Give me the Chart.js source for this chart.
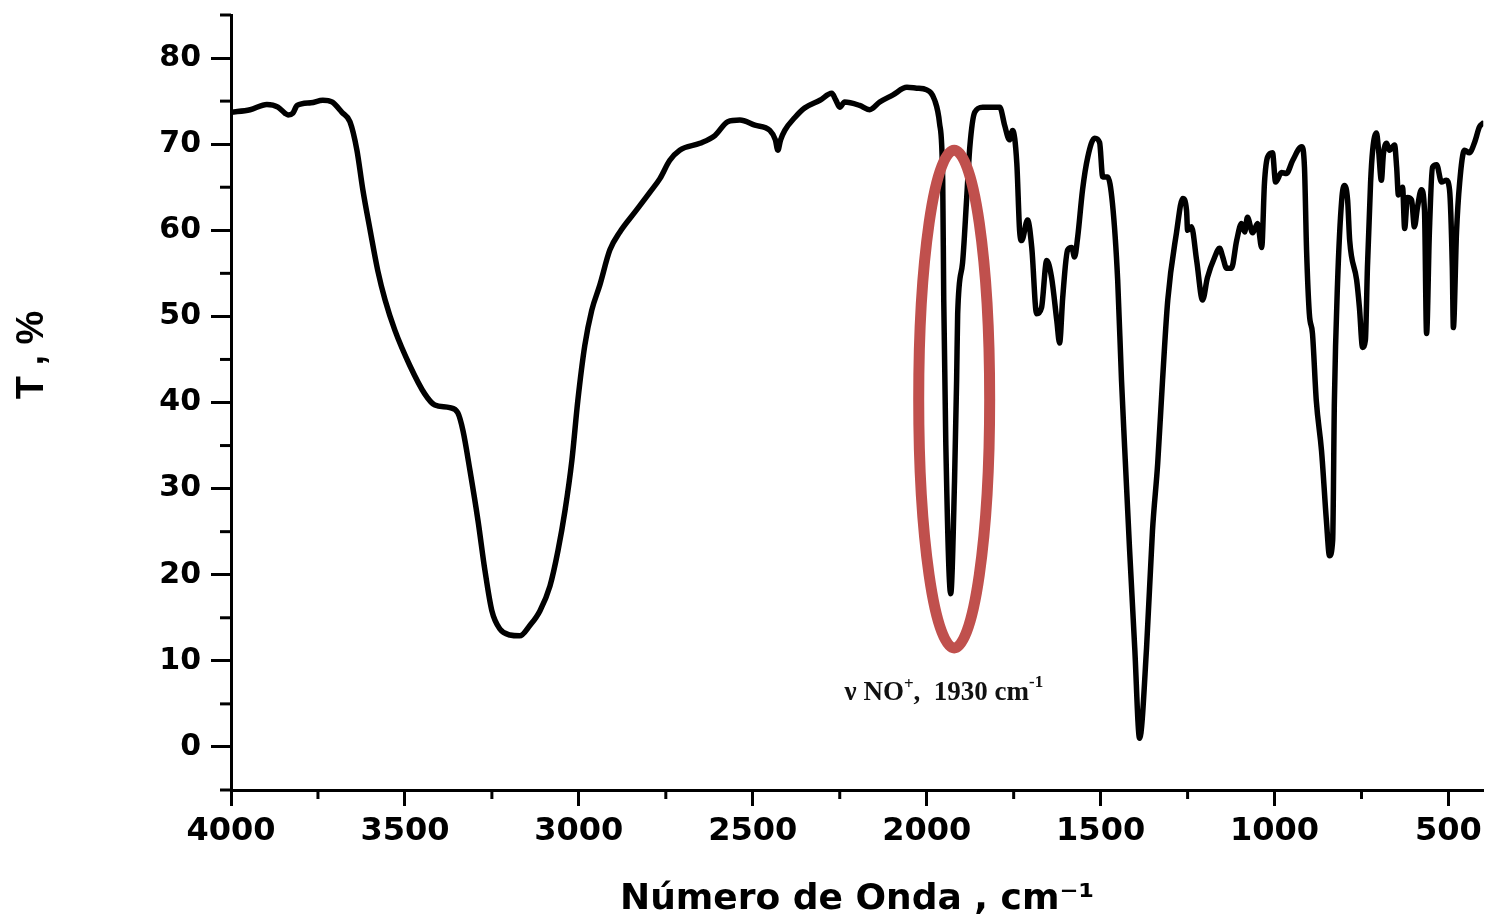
<!DOCTYPE html>
<html>
<head>
<meta charset="utf-8">
<script src="https://cdn.jsdelivr.net/npm/chart.js@4.4.0/dist/chart.umd.min.js"></script>
<style>
  html, body { margin: 0; padding: 0; background: #fff; }
  #wrap { width: 1488px; height: 923px; }
</style>
</head>
<body>
<div id="wrap"><canvas id="irChart"></canvas></div>
<script>
// IR spectrum, wavenumber (cm-1) vs transmittance (%)
const waveNumber = [
  4000, 3945, 3897, 3865, 3845, 3836, 3822, 3810, 3770, 3736, 3710, 3681, 3658, 3638, 3621,
  3600, 3578, 3557, 3529, 3486, 3443, 3414, 3371, 3348, 3333, 3313, 3290, 3270, 3250, 3227,
  3198, 3170, 3141, 3112, 3083, 3060, 3040, 3020, 3003, 2983, 2963, 2940, 2911, 2882, 2839,
  2796, 2767, 2739, 2710, 2652, 2609, 2572, 2537, 2494, 2451, 2435, 2428, 2420, 2408, 2379,
  2351, 2307, 2273, 2261, 2250, 2236, 2193, 2164, 2135, 2098, 2057, 2029, 2000, 1977, 1963,
  1954, 1951, 1945, 1931, 1920, 1914, 1911, 1897, 1885, 1876, 1862, 1839, 1790, 1776, 1762,
  1753, 1741, 1733, 1727, 1710, 1698, 1684, 1670, 1655, 1641, 1626, 1618, 1609, 1595, 1583,
  1575, 1566, 1552, 1537, 1517, 1503, 1494, 1480, 1466, 1451, 1440, 1431, 1417, 1402, 1388,
  1368, 1351, 1336, 1322, 1307, 1282, 1264, 1253, 1250, 1239, 1224, 1207, 1193, 1172, 1158,
  1149, 1138, 1124, 1109, 1095, 1086, 1078, 1063, 1049, 1037, 1029, 1020, 1006, 997, 980,
  966, 948, 922, 914, 908, 900, 891, 880, 865, 851, 842, 833, 828, 819, 807,
  799, 790, 784, 764, 756, 747, 739, 733, 724, 718, 707, 701, 693, 687, 678,
  670, 655, 649, 644, 632, 626, 618, 606, 598, 589, 578, 569, 563, 555, 546,
  534, 520, 506, 497, 489, 486, 477, 468, 454, 440, 425, 411, 402
];
const transmittance = [
  73.7, 74.0, 74.6, 74.3, 73.6, 73.4, 73.6, 74.5, 74.8, 75.1, 74.9, 73.7, 72.6, 69.3, 64.7,
  60.0, 55.3, 51.9, 48.4, 44.3, 41.0, 39.7, 39.4, 38.8, 36.7, 32.1, 26.3, 20.5, 15.8, 13.7,
  13.0, 12.9, 14.1, 15.8, 18.7, 22.8, 27.4, 33.3, 40.2, 46.6, 50.7, 53.6, 57.7, 59.8, 62.1,
  64.4, 66.0, 68.1, 69.3, 70.1, 71.0, 72.6, 72.8, 72.2, 71.6, 70.5, 69.3, 70.5, 71.6, 73.1,
  74.2, 75.1, 75.9, 75.1, 74.3, 74.9, 74.5, 74.0, 74.9, 75.7, 76.6, 76.5, 76.3, 75.1, 72.4,
  65.8, 51.9, 35.0, 17.8, 30.9, 42.6, 50.3, 56.2, 63.8, 69.7, 73.7, 74.3, 74.3, 72.2, 70.5,
  71.6, 67.8, 60.0, 58.8, 61.2, 58.0, 50.3, 51.0, 56.5, 54.5, 49.5, 46.9, 52.2, 57.7, 58.0,
  56.9, 59.2, 64.7, 68.5, 70.7, 70.2, 66.2, 66.2, 63.1, 54.2, 42.6, 34.8, 23.1, 11.5, 1.0,
  11.5, 25.1, 32.9, 42.6, 51.9, 59.7, 63.7, 62.3, 60.0, 60.4, 56.5, 51.9, 54.5, 56.9, 57.9,
  56.9, 55.6, 55.6, 58.8, 60.8, 59.8, 61.5, 59.7, 60.8, 58.0, 65.5, 68.5, 69.0, 65.6, 66.7,
  66.6, 68.1, 69.7, 67.3, 57.7, 50.3, 48.0, 40.2, 34.4, 26.3, 22.2, 24.0, 40.2, 53.8, 63.5,
  65.2, 63.5, 58.8, 54.2, 51.0, 46.4, 47.2, 55.7, 65.5, 69.3, 71.3, 69.3, 65.8, 68.9, 70.1,
  69.3, 69.9, 67.3, 64.1, 65.0, 60.2, 63.8, 63.5, 60.4, 62.7, 64.7, 62.3, 48.0, 59.7, 67.3,
  67.6, 65.6, 65.8, 64.7, 55.7, 48.7, 59.7, 65.5, 69.3, 69.0, 70.2, 72.0, 72.4
];

// highlighted band (ellipse bounds in data units) and its label
const bandX = [2023, 1819];
const bandY = [11.5, 69.3];
const bandLabel = { x: 2236, y: 5.5 };

const xTickLabels = [4000, 3500, 3000, 2500, 2000, 1500, 1000, 500];
const xMinorTicks = [3750, 3250, 2750, 2250, 1750, 1250, 750];
const yTickLabels = [0, 10, 20, 30, 40, 50, 60, 70, 80];
const yMinorTicks = [-5, 5, 15, 25, 35, 45, 55, 65, 75, 85];

const points = waveNumber.map((w, i) => ({ x: w, y: transmittance[i] }));

const extras = {
  id: 'extras',
  afterDraw(chart) {
    const { ctx, scales: { x, y } } = chart;
    ctx.save();
    ctx.strokeStyle = '#000';
    ctx.lineWidth = 3;
    ctx.lineCap = 'butt';
    // minor ticks
    xMinorTicks.forEach(v => {
      const px = x.getPixelForValue(v);
      ctx.beginPath();
      ctx.moveTo(px, y.bottom);
      ctx.lineTo(px, y.bottom + 9);
      ctx.stroke();
    });
    yMinorTicks.forEach(v => {
      const py = y.getPixelForValue(v);
      ctx.beginPath();
      ctx.moveTo(x.left, py);
      ctx.lineTo(x.left - 11, py);
      ctx.stroke();
    });

    // red ellipse around the NO+ band
    const x1 = x.getPixelForValue(bandX[0]), x2 = x.getPixelForValue(bandX[1]);
    const y1 = y.getPixelForValue(bandY[0]), y2 = y.getPixelForValue(bandY[1]);
    ctx.strokeStyle = '#c0504d';
    ctx.lineWidth = 11;
    ctx.beginPath();
    ctx.ellipse((x1 + x2) / 2, (y1 + y2) / 2, Math.abs(x2 - x1) / 2, Math.abs(y1 - y2) / 2, 0, 0, Math.PI * 2);
    ctx.stroke();

    // annotation
    let tx = x.getPixelForValue(bandLabel.x);
    const ty = y.getPixelForValue(bandLabel.y);
    ctx.fillStyle = '#111';
    ctx.textBaseline = 'alphabetic';
    ctx.textAlign = 'left';
    const big = 'bold 27px "Liberation Serif", "Times New Roman", serif';
    const small = 'bold 17px "Liberation Serif", "Times New Roman", serif';
    const parts = [['ν NO', big, 0], ['+', small, -11], [',  1930 cm', big, 0], ['-1', small, -13]];
    parts.forEach(([t, f, dy]) => {
      ctx.font = f;
      ctx.fillText(t, tx, ty + dy);
      tx += ctx.measureText(t).width;
    });

    // y axis title
    ctx.translate(33, 355);
    ctx.rotate(-Math.PI / 2);
    ctx.font = 'bold 38px "Liberation Sans", Arial, sans-serif';
    ctx.fillStyle = '#000';
    ctx.textAlign = 'center';
    ctx.textBaseline = 'middle';
    ctx.fillText('T , %', 0, 0);
    ctx.restore();
  }
};

new Chart(document.getElementById('irChart'), {
  type: 'line',
  data: {
    datasets: [{
      data: points,
      borderColor: '#000',
      borderWidth: 5.5,
      pointRadius: 0,
      fill: false,
      cubicInterpolationMode: 'monotone',
      borderJoinStyle: 'round',
      borderCapStyle: 'round'
    }]
  },
  options: {
    responsive: true,
    maintainAspectRatio: false,
    animation: false,
    layout: { padding: { top: 15, right: 4, left: 0, bottom: 0 } },
    plugins: { legend: { display: false }, tooltip: { enabled: false } },
    scales: {
      x: {
        type: 'linear',
        reverse: true,
        min: 400,
        max: 4000,
        afterBuildTicks: s => { s.ticks = xTickLabels.map(v => ({ value: v })); },
        afterFit: s => { s.height = 133; },
        border: { display: true, color: '#000', width: 3 },
        grid: { drawOnChartArea: false, tickLength: 16, tickWidth: 3, tickColor: '#000' },
        ticks: {
          autoSkip: false,
          maxRotation: 0,
          padding: 6,
          color: '#000',
          font: { family: '"DejaVu Sans"', size: 32, weight: 'bold' },
          callback: v => String(v)
        },
        title: {
          display: true,
          text: 'Número de Onda , cm⁻¹',
          color: '#000',
          font: { family: '"DejaVu Sans"', size: 36, weight: 'bold' },
          padding: { top: 0, bottom: 2 }
        }
      },
      y: {
        min: -5,
        max: 85,
        afterBuildTicks: s => { s.ticks = yTickLabels.map(v => ({ value: v })); },
        afterFit: s => { s.width = 231; s.paddingTop = 0; s.paddingBottom = 0; },
        border: { display: true, color: '#000', width: 3 },
        grid: { drawOnChartArea: false, tickLength: 20, tickWidth: 3, tickColor: '#000' },
        ticks: {
          autoSkip: false,
          padding: 10,
          color: '#000',
          font: { family: '"DejaVu Sans"', size: 30, weight: 'bold' },
          callback: v => String(v)
        }
      }
    }
  },
  plugins: [extras]
});
</script>
</body>
</html>
